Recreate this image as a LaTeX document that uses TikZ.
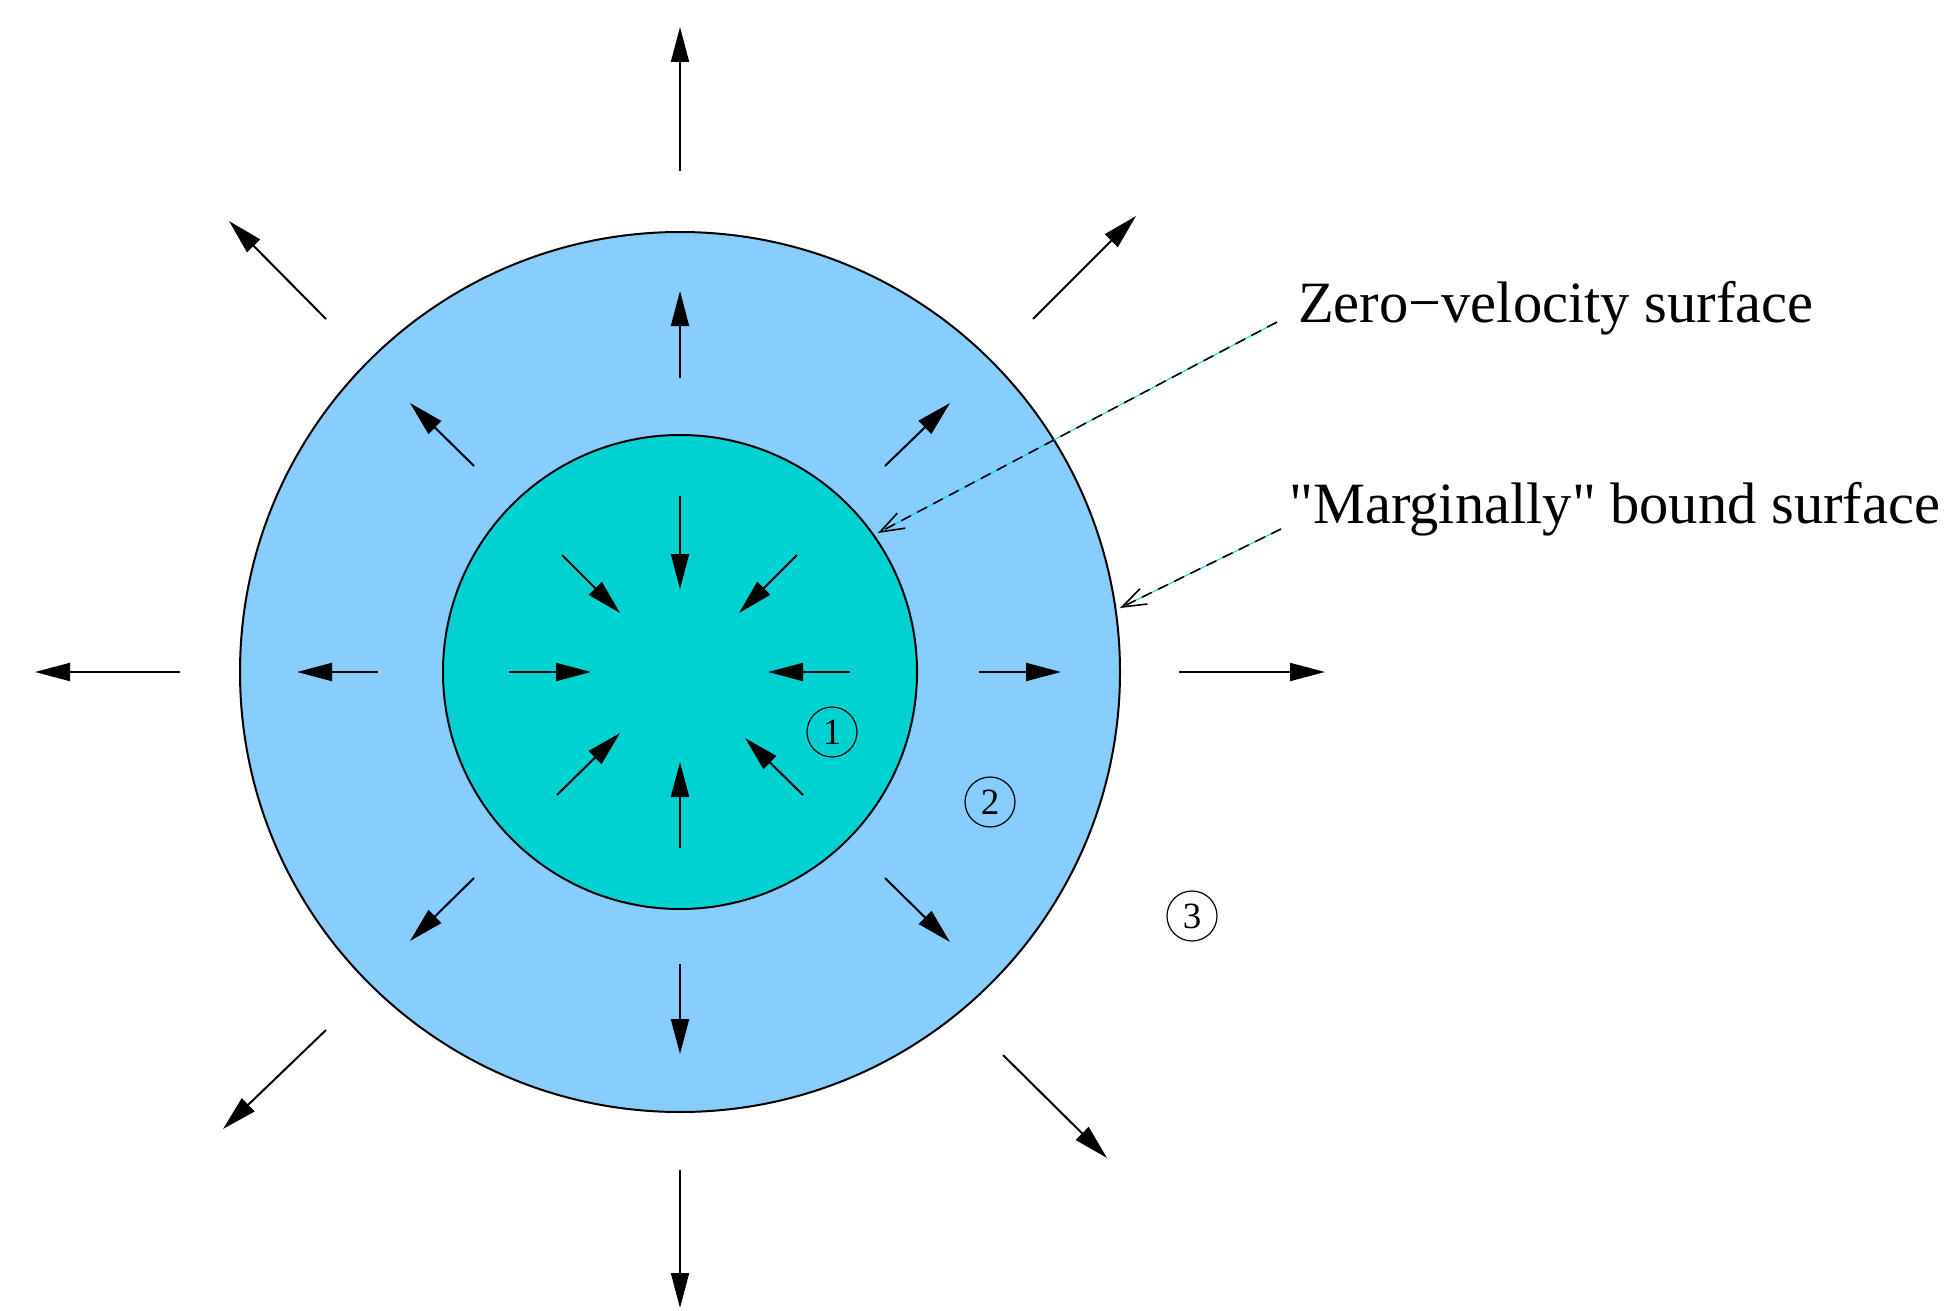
\documentclass[tikz,border=0pt]{standalone}
\usepackage{fontspec}
\setmainfont{Liberation Serif}[Ligatures=TeXOff]
\usetikzlibrary{arrows.meta}
\definecolor{ringblue}{RGB}{135,206,255}
\definecolor{corecyan}{RGB}{0,209,209}
\definecolor{leadcyan}{RGB}{0,220,230}
\begin{document}
\begin{tikzpicture}[x=1pt,y=-1pt,
  vel/.style={line width=2pt,-{Triangle[length=35pt,width=18pt]}},
  disk/.style={circle,draw=black,line width=2pt,inner sep=0pt},
  tag/.style={circle,draw=black,line width=1.2pt,minimum size=50pt,inner sep=0pt,font=\fontsize{37}{40}\selectfont},
  lab/.style={anchor=base west,inner sep=0pt,font=\fontsize{58.5}{62}\selectfont},
  leadunder/.style={leadcyan,line width=1pt},
  leader/.style={black,line width=1.6pt,dash pattern=on 11pt off 7pt,-{Straight Barb[length=24pt,width=17pt,line width=1.6pt]}}]
\useasboundingbox (0,0) rectangle (1944,1311);
% disks
\node[disk,fill=ringblue,minimum size=880pt] (outer) at (680,672) {};
\node[disk,fill=corecyan,minimum size=474pt] (inner) at (680,672) {};
% outer arrows (outward)
\draw[vel] (680,171) -- (680,27);
\draw[vel] (1179,672) -- (1325,672);
\draw[vel] (180,672) -- (35,672);
\draw[vel] (680,1170) -- (680,1308);
\draw[vel] (326,319) -- (229,221);
\draw[vel] (1033,319) -- (1136,216);
\draw[vel] (326,1030) -- (223,1129);
\draw[vel] (1003,1055) -- (1107,1158);
% ring arrows (outward)
\draw[vel] (680,378) -- (680,291);
\draw[vel] (979,672) -- (1061,672);
\draw[vel] (378,672) -- (297,672);
\draw[vel] (680,964) -- (680,1054);
\draw[vel] (474,466) -- (410,403);
\draw[vel] (885,466) -- (950,403);
\draw[vel] (474,878) -- (410,941);
\draw[vel] (885,878) -- (950,942);
% core arrows (inward)
\draw[vel] (680,496) -- (680,589);
\draw[vel] (680,848) -- (680,762);
\draw[vel] (509,672) -- (591,672);
\draw[vel] (850,672) -- (768,672);
\draw[vel] (562,555) -- (620,613);
\draw[vel] (797,555) -- (739,613);
\draw[vel] (557,795) -- (620,733);
\draw[vel] (803,795) -- (745,738);
% region tags
\node[tag] (r1) at (832,732) {1};
\node[tag] (r2) at (990,802) {2};
\node[tag] (r3) at (1192,916) {3};
% labels
\node[lab] (zvlab) at (1298,322) {Zero−velocity surface};
\node[lab] (mblab) at (1289,523) {"Marginally" bound surface};
% leaders
\coordinate (zvs) at (1277,322);
\coordinate (zvt) at (878,533);
\coordinate (mbs) at (1281,529);
\coordinate (mbt) at (1120,608);
\draw[leadunder] (zvs) -- (zvt);
\draw[leader] (zvs) -- (zvt);
\draw[leadunder] (mbs) -- (mbt);
\draw[leader] (mbs) -- (mbt);
\end{tikzpicture}
\end{document}
